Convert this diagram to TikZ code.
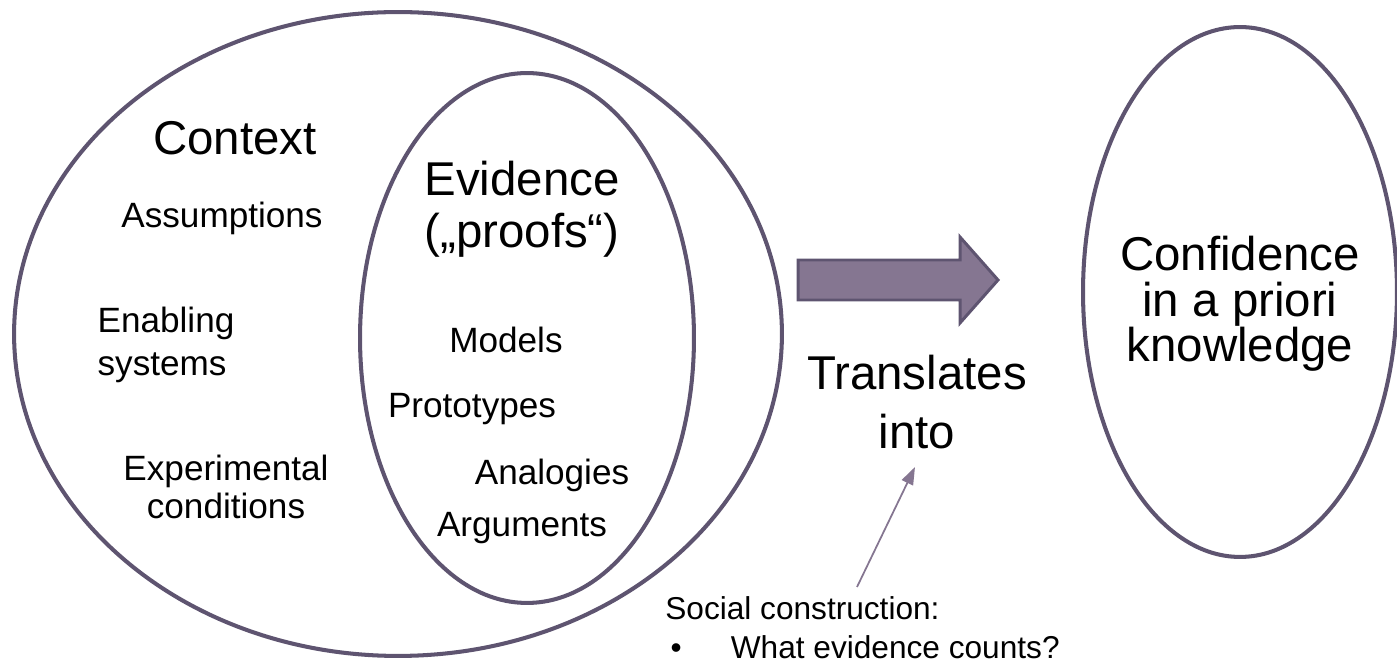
\documentclass[tikz,border=0pt]{standalone}
\usepackage{fontspec}
\setmainfont{Liberation Sans}
\usetikzlibrary{shapes.geometric,arrows.meta}
\definecolor{edgec}{HTML}{5E5470}
\definecolor{fillp}{HTML}{857691}
\begin{document}
\begin{tikzpicture}[x=0.02cm,y=-0.02cm,
  oval/.style={ellipse,draw=edgec,line width=2.3pt,inner sep=0pt},
  big/.style={font=\fontsize{27}{30}\selectfont,align=center,inner sep=0pt},
  small/.style={font=\fontsize{20}{22}\selectfont,inner sep=0pt},
  note/.style={font=\fontsize{18}{21}\selectfont,inner sep=0pt,align=left}]
\useasboundingbox (0,0) rectangle (1397,661);
\node[oval,minimum width=15.36cm,minimum height=12.88cm] (outer) at (398,334) {};
\node[oval,minimum width=6.68cm,minimum height=10.6cm] (inner) at (527,338) {};
\node[oval,minimum width=6.28cm,minimum height=10.6cm] (conf) at (1240,292) {};
% big arrow
\draw[draw=edgec,fill=fillp,line width=1.7pt,line join=miter]
  (798,260) -- (960,260) -- (960,237) -- (998,280) -- (960,323) -- (960,300) -- (798,300) -- cycle;
% texts
\node[big] (context) at (235,138) {Context};
\node[small] (assump) at (222,218) {Assumptions};
\node[small,align=left,font=\fontsize{20}{24}\selectfont] (enab) at (166,345) {Enabling\\systems};
\node[small,align=center,font=\fontsize{20}{22}\selectfont] (exper) at (226,487) {Experimental\\conditions};
\node[big,font=\fontsize{27}{29.5}\selectfont] (evid) at (522,209) {Evidence\\(„proofs“)};
\node[small] (models) at (506,340) {Models};
\node[small] (proto) at (472,409) {Prototypes};
\node[small] (analog) at (552,475) {Analogies};
\node[small] (argum) at (522,528) {Arguments};
\node[big,font=\fontsize{27}{33.5}\selectfont] (transl) at (917,402) {Translates\\into};
\node[big,font=\fontsize{27}{26}\selectfont] (confid) at (1240,304) {Confidence\\in a priori\\knowledge};
\node[note,anchor=west] (social) at (665,628) {Social construction:\\[1pt]\hspace*{3pt}•\hspace{28pt}What evidence counts?};
\coordinate (sfrom) at (857,587);
\coordinate (sto) at (915,467);
\draw[color=fillp,line width=1pt,-{Triangle[length=10pt,width=7pt]}] (sfrom) -- (sto);
\end{tikzpicture}
\end{document}
